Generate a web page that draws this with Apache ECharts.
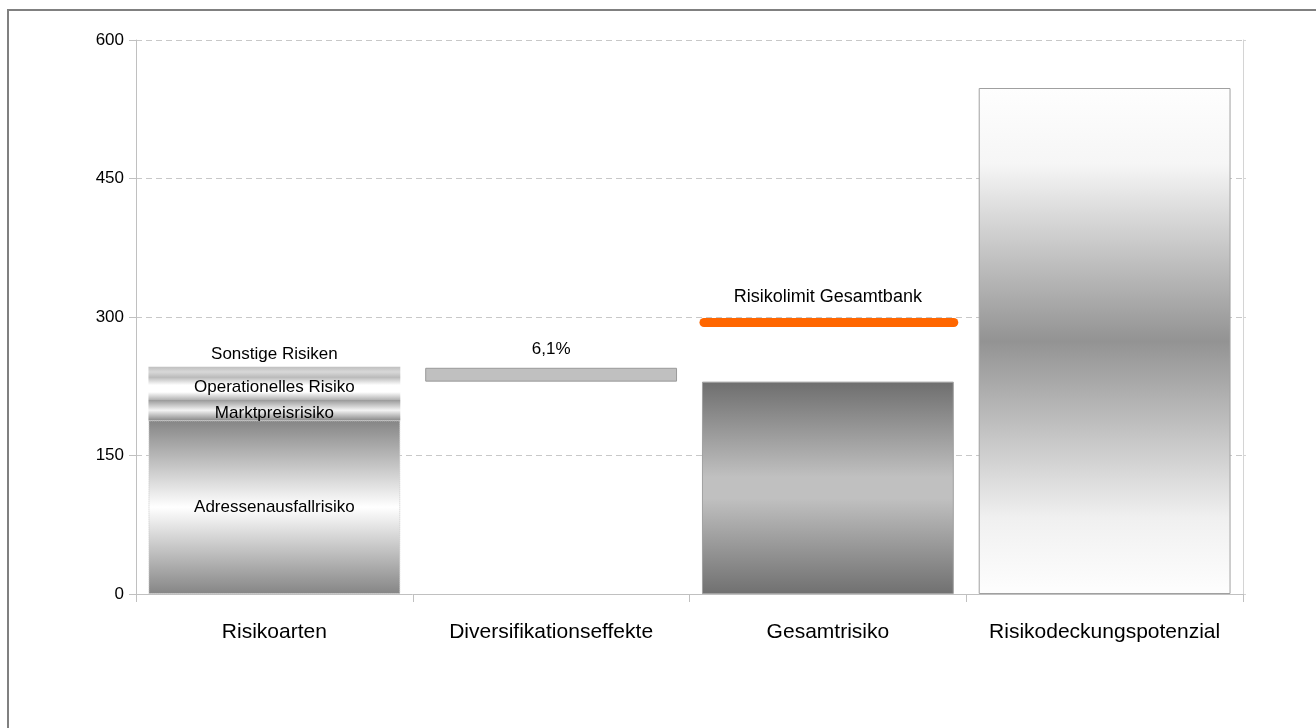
<!DOCTYPE html>
<html><head><meta charset="utf-8">
<script src="https://cdn.jsdelivr.net/npm/echarts@6/dist/echarts.min.js"></script>
<style>html,body{margin:0;padding:0;background:#fff;}#c{width:1316px;height:728px;}</style>
</head><body><div id="c"></div>
<script>
const categories = ['Risikoarten', 'Diversifikationseffekte', 'Gesamtrisiko', 'Risikodeckungspotenzial'];
const yTicks = [0, 150, 300, 450, 600];
const adressen = [188, '-', '-', '-'];
const markt = [22, '-', '-', '-'];
const operationell = [25, '-', '-', '-'];
const sonstige = [11, '-', '-', '-'];
const diversBase = ['-', 230, '-', '-'];
const divers = ['-', 15, '-', '-'];
const divLabel = '6,1%';
const gesamt = ['-', '-', 230, '-'];
const deckung = ['-', '-', '-', 548];
const limit = [['Gesamtrisiko', 294]];
const limitLabel = 'Risikolimit Gesamtbank';

const FONT = 'Liberation Sans, Arial, sans-serif';
function vg(stops){
  return {type:'linear',x:0,y:0,x2:0,y2:1,colorStops:stops.map(s=>({offset:s[0],color:s[1]}))};
}
const stripe = vg([[0,'#858585'],[0.5,'#ffffff'],[1,'#858585']]);
function innerLabel(txt){
  return {show:true,position:'inside',formatter:txt,color:'#000',fontSize:17,fontFamily:FONT};
}
const chart = echarts.init(document.getElementById('c'));
chart.setOption({
  animation:false,
  backgroundColor:'#fff',
  graphic:[{type:'rect',shape:{x:8,y:10,width:1400,height:800},style:{fill:'none',stroke:'#808080',lineWidth:2},silent:true}],
  grid:{left:136,right:73,top:40,bottom:134},
  xAxis:{type:'category',data:categories,
    axisLine:{lineStyle:{color:'#c0c0c0',width:1}},
    axisTick:{show:true,interval:0,length:8,lineStyle:{color:'#c0c0c0'}},
    axisLabel:{interval:0,hideOverlap:false,color:'#000',fontSize:21,fontFamily:FONT,margin:28}},
  yAxis:[{type:'value',min:0,max:600,interval:150,
    axisLine:{show:true,lineStyle:{color:'#c0c0c0'}},
    axisTick:{show:true,length:7,lineStyle:{color:'#c0c0c0'}},
    splitLine:{show:true,lineStyle:{color:'#c8c8c8',type:[6,4]}},
    axisLabel:{color:'#000',fontSize:17,fontFamily:FONT,margin:12,
      formatter:v=>yTicks.includes(v)?String(v):''}},
    {type:'value',min:0,max:600,interval:150,position:'right',
    axisLine:{show:true,lineStyle:{color:'#d4d4d4'}},
    axisTick:{show:true,length:3,lineStyle:{color:'#d4d4d4'}},
    splitLine:{show:false},axisLabel:{show:false}}],
  series:[
    {type:'bar',stack:'a',data:adressen,barWidth:'91%',barGap:'-100%',
      itemStyle:{color:stripe,borderColor:'#c8c8c8',borderWidth:1,borderType:'dotted'},label:innerLabel('Adressenausfallrisiko')},
    {type:'bar',stack:'a',data:markt,itemStyle:{color:vg([[0,'#9a9a9a'],[0.5,'#f4f4f4'],[1,'#8a8a8a']])},label:Object.assign(innerLabel('Marktpreisrisiko'),{offset:[0,3]})},
    {type:'bar',stack:'a',data:operationell,itemStyle:{color:vg([[0,'#b8b8b8'],[0.35,'#ffffff'],[0.65,'#ffffff'],[1,'#b0b0b0']])},label:Object.assign(innerLabel('Operationelles Risiko'),{offset:[0,-1]})},
    {type:'bar',stack:'a',data:sonstige,itemStyle:{color:vg([[0,'#c0c0c0'],[0.5,'#d8d8d8'],[1,'#bdbdbd']])},
      label:{show:true,position:'top',distance:4,formatter:'Sonstige Risiken',color:'#000',fontSize:17,fontFamily:FONT}},
    {type:'bar',stack:'a',data:diversBase,itemStyle:{color:'transparent'}},
    {type:'bar',stack:'a',data:divers,itemStyle:{color:'#c0c0c0',borderColor:'#9a9a9a',borderWidth:1},
      label:{show:true,position:'top',distance:10,formatter:divLabel,color:'#000',fontSize:17,fontFamily:FONT}},
    {type:'bar',stack:'a',data:gesamt,itemStyle:{color:vg([[0,'#6e6e6e'],[0.45,'#c0c0c0'],[0.55,'#c0c0c0'],[1,'#707070']]),borderColor:'#a0a0a0',borderWidth:1}},
    {type:'bar',stack:'a',data:deckung,itemStyle:{color:vg([[0,'#fefefe'],[0.15,'#f6f6f6'],[0.5,'#939393'],[0.85,'#f0f0f0'],[1,'#fefefe']]),borderColor:'#a0a0a0',borderWidth:1}},
    {type:'custom',data:limit,z:10,
      renderItem:function(params,api){
        const p = api.coord([api.value(0),api.value(1)]);
        const w = api.size([1,0])[0]*0.91;
        return {type:'group',children:[
          {type:'line',shape:{x1:p[0]-w/2+2,y1:p[1],x2:p[0]+w/2,y2:p[1]},style:{stroke:'#ff6600',lineWidth:9,lineCap:'round'}},
          {type:'text',style:{text:limitLabel,x:p[0],y:p[1]-26,textAlign:'center',textVerticalAlign:'middle',fill:'#000',fontSize:18,fontFamily:FONT}}
        ]};
      }}
  ]
});
</script></body></html>
